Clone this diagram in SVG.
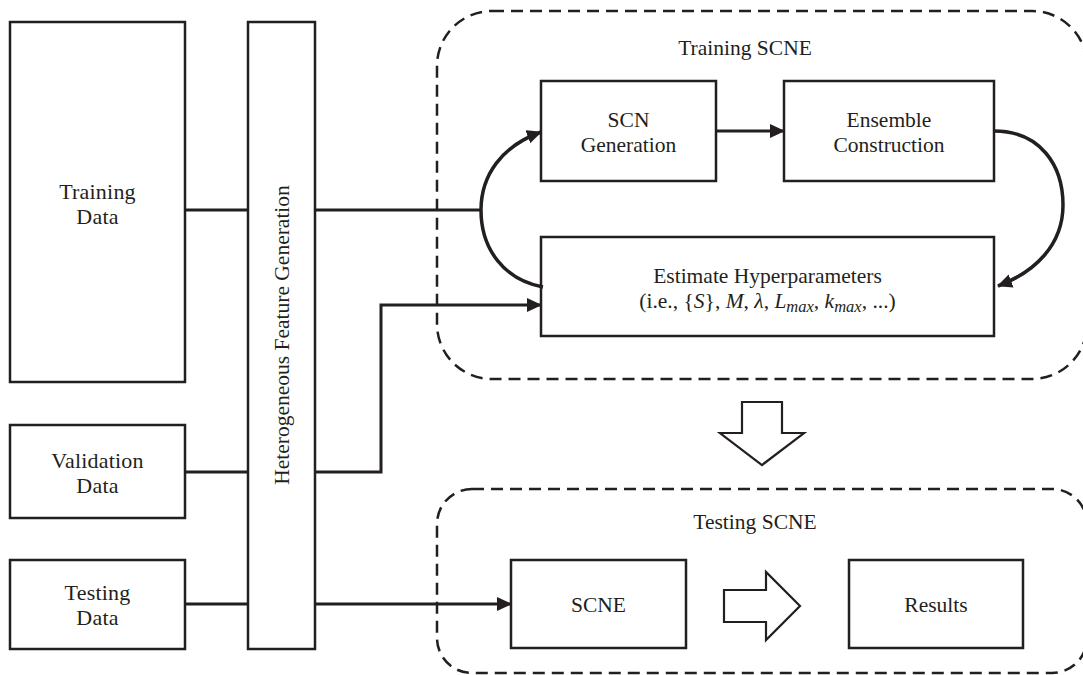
<svg xmlns="http://www.w3.org/2000/svg" width="1083" height="675" viewBox="0 0 1083 675">
<style>
.box{fill:#fff;stroke:#231f20;stroke-width:2.5}
.conn{fill:none;stroke:#231f20;stroke-width:3}
.arc{fill:none;stroke:#231f20;stroke-width:3.5}
.dash{fill:none;stroke:#231f20;stroke-width:2.5;stroke-dasharray:12 7}
.hollow{fill:#fff;stroke:#231f20;stroke-width:2.2;stroke-linejoin:miter}
text{font-family:"Liberation Serif","Times New Roman",serif;fill:#231f20;text-anchor:middle}
.t{font-size:21.5px}
.l{font-size:22px;letter-spacing:0.2px}
.m{font-style:italic}
</style>
<defs>
<marker id="ah" markerUnits="userSpaceOnUse" markerWidth="17" markerHeight="15" refX="14" refY="7" orient="auto">
<path d="M0,0 L15,7 L0,14 z" fill="#231f20"/>
</marker>
</defs>
<rect width="1083" height="675" fill="#fff"/>

<g id="training-scne-group">
<rect class="dash" x="437" y="11" width="650" height="368" rx="55" ry="55"/>
<text class="t" x="745" y="55">Training SCNE</text>
</g>
<g id="testing-scne-group">
<rect class="dash" x="437" y="489" width="650" height="184" rx="35" ry="35"/>
<text class="t" x="755" y="529">Testing SCNE</text>
</g>

<g id="training-data">
<rect class="box" x="10" y="22" width="175" height="360"/>
<text class="l" x="97.5" y="199">Training</text>
<text class="l" x="97.5" y="224">Data</text>
</g>
<g id="validation-data">
<rect class="box" x="10" y="425" width="175" height="93"/>
<text class="l" x="97.5" y="468">Validation</text>
<text class="l" x="97.5" y="493">Data</text>
</g>
<g id="testing-data">
<rect class="box" x="10" y="560" width="175" height="89"/>
<text class="l" x="97.5" y="600">Testing</text>
<text class="l" x="97.5" y="625">Data</text>
</g>
<g id="hfg">
<rect class="box" x="248" y="22" width="67" height="627"/>
<text class="t" transform="translate(289,335) rotate(-90)" x="0" y="0">Heterogeneous Feature Generation</text>
</g>

<g id="scn-generation">
<rect class="box" x="541" y="81" width="175" height="100"/>
<text class="t" x="628.5" y="127">SCN</text>
<text class="t" x="628.5" y="152">Generation</text>
</g>
<g id="ensemble-construction">
<rect class="box" x="784" y="81" width="210" height="100"/>
<text class="t" x="889" y="127">Ensemble</text>
<text class="t" x="889" y="152">Construction</text>
</g>
<g id="estimate-hyperparameters">
<rect class="box" x="541" y="237" width="453" height="99"/>
<text class="t" x="767.5" y="283">Estimate Hyperparameters</text>
<text class="t" x="767.5" y="308">(i.e., {<tspan class="m">S</tspan>}, <tspan class="m">M</tspan>, <tspan class="m">λ</tspan>, <tspan class="m">L</tspan><tspan class="m" font-size="16.5" dy="4">max</tspan><tspan dy="-4">, </tspan><tspan class="m">k</tspan><tspan class="m" font-size="16.5" dy="4">max</tspan><tspan dy="-4">, ...)</tspan></text>
</g>

<g id="scne">
<rect class="box" x="511" y="560" width="175" height="88"/>
<text class="t" x="598.5" y="612">SCNE</text>
</g>
<g id="results">
<rect class="box" x="849" y="560" width="174" height="88"/>
<text class="t" x="936" y="612">Results</text>
</g>

<g id="connectors">
<line class="conn" x1="185" y1="210" x2="248" y2="210"/>
<line class="conn" x1="185" y1="472" x2="248" y2="472"/>
<line class="conn" x1="185" y1="604" x2="248" y2="604"/>
<line class="conn" x1="315" y1="210" x2="481" y2="210"/>
<path class="arc" d="M481,210 C481,175 502,146 541,132" marker-end="url(#ah)"/>
<path class="arc" d="M481,210 C481,250 505,280 543,287"/>
<path class="conn" d="M315,472 H381 V305 H541" marker-end="url(#ah)"/>
<path class="conn" d="M315,604 H511" marker-end="url(#ah)"/>
<path class="conn" d="M716,131 H784" marker-end="url(#ah)"/>
<path class="arc" d="M994,131 C1040,131 1063,165 1063,205 C1063,245 1035,272 998,286" marker-end="url(#ah)"/>
<path id="down-arrow" class="hollow" d="M742,402 H782 V433 H804 L762,465 L720,433 H742 Z"/>
<path id="right-arrow" class="hollow" d="M724,590 H766 V572 L800,606 L766,640 V622 H724 Z"/>
</g>
</svg>
